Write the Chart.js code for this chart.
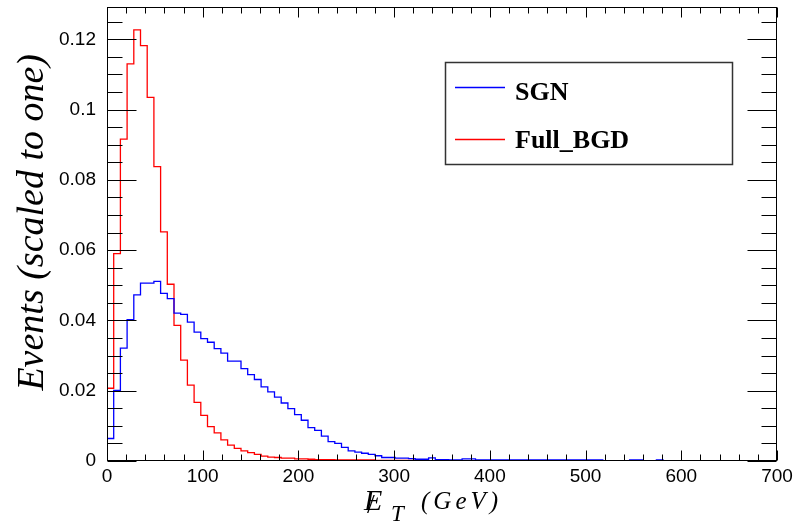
<!DOCTYPE html>
<html>
<head>
<meta charset="utf-8">
<script src="https://cdn.jsdelivr.net/npm/chart.js@4.4.1/dist/chart.umd.min.js"></script>
<style>
  html, body { margin: 0; padding: 0; background: #fff; }
  canvas { display: block; }
</style>
</head>
<body>
<canvas id="chartMet" width="802" height="528"></canvas>
<script>
"use strict";

// 100 bins of 7 GeV, 0 - 700 GeV
var binEdges = [
  0, 7, 14, 21, 28, 35, 42, 49, 56, 63, 70, 77, 84, 91, 98,
  105, 112, 119, 126, 133, 140, 147, 154, 161, 168, 175, 182, 189, 196,
  203, 210, 217, 224, 231, 238, 245, 252, 259, 266, 273, 280, 287, 294,
  301, 308, 315, 322, 329, 336, 343, 350, 357, 364, 371, 378, 385, 392,
  399, 406, 413, 420, 427, 434, 441, 448, 455, 462, 469, 476, 483, 490,
  497, 504, 511, 518, 525, 532, 539, 546, 553, 560, 567, 574, 581, 588,
  595, 602, 609, 616, 623, 630, 637, 644, 651, 658, 665, 672, 679, 686,
  693, 700
];

// SGN (blue), scaled to one
var sgnVals = [
  0.0064, 0.0201, 0.0321, 0.0402, 0.0473, 0.0506, 0.0506, 0.0511, 0.0477, 0.0462,
  0.0421, 0.0417, 0.0395, 0.0367, 0.0348, 0.0338, 0.0320, 0.0307, 0.0284, 0.0284,
  0.0263, 0.0246, 0.0232, 0.0211, 0.0197, 0.0182, 0.0165, 0.0149, 0.0132, 0.0116,
  0.0095, 0.0087, 0.0071, 0.0055, 0.0050, 0.0039, 0.0029, 0.0025, 0.0022, 0.0019,
  0.0015, 0.0010, 0.0010, 0.0008, 0.0008, 0.0007, 0.0005, 0.0005, 0.0009, 0.0004,
  0.0004, 0.0003, 0.0003, 0.0006, 0.0006, 0.0003, 0.0003, 0.0003, 0.0003, 0.0003,
  0.0003, 0.0003, 0.0003, 0.0003, 0.0003, 0.0003, 0.0003, 0.0003, 0.0003, 0.0003,
  0.0003, 0.0003, 0.0003, 0.0003, 0, 0, 0, 0, 0.0003, 0.0003,
  0, 0, 0.0003, 0, 0, 0, 0, 0, 0, 0,
  0, 0, 0, 0, 0, 0, 0, 0, 0, 0
];

// Full_BGD (red), scaled to one
var bgdVals = [
  0.0207, 0.0590, 0.0916, 0.1130, 0.1227, 0.1182, 0.1035, 0.0838, 0.0652, 0.0503,
  0.0386, 0.0287, 0.0216, 0.0167, 0.0130, 0.0098, 0.0080, 0.0060, 0.0045, 0.0036,
  0.0029, 0.0024, 0.0019, 0.0014, 0.0011, 0.0010, 0.0008, 0.0008, 0.0006, 0.0006,
  0.0005, 0.0004, 0.0004, 0.0004, 0.0003, 0.0003, 0.0003, 0.0003, 0.0003, 0.0003,
  0.0002, 0.0002, 0.0002, 0.0002, 0.0002, 0.0002, 0, 0, 0, 0,
  0, 0, 0, 0, 0, 0, 0, 0, 0, 0,
  0, 0, 0, 0, 0, 0, 0, 0, 0, 0,
  0, 0, 0, 0, 0, 0, 0, 0, 0, 0,
  0, 0, 0, 0, 0, 0, 0, 0, 0, 0,
  0, 0, 0, 0, 0, 0, 0, 0, 0, 0
];

var seriesNames  = ['SGN', 'Full_BGD'];
var seriesColors = ['#0000ff', '#ff0000'];
var xTickValues  = [0, 100, 200, 300, 400, 500, 600, 700];
var xTickLabels  = ['0', '100', '200', '300', '400', '500', '600', '700'];
var yTickValues  = [0, 0.02, 0.04, 0.06, 0.08, 0.1, 0.12];
var yTickLabels  = ['0', '0.02', '0.04', '0.06', '0.08', '0.1', '0.12'];
var xMinorStep   = 20;
var yMinorStep   = 0.005;

// histogram -> step points (left edge of each bin, plus closing right edge)
function toSteps(vals) {
  var pts = vals.map(function (v, i) { return { x: binEdges[i], y: v }; });
  pts.push({ x: binEdges[vals.length], y: vals[vals.length - 1] });
  return pts;
}

// ROOT-like frame: box, inner ticks on all four sides, axis titles, legend
var rootFrame = {
  id: 'rootFrame',
  afterDatasetsDraw: function (chart) {
    var ctx = chart.ctx, a = chart.chartArea;
    var xs = chart.scales.x, ys = chart.scales.y;
    var L = Math.round(a.left) + 0.5, R = Math.round(a.right) - 0.5;
    var T = Math.round(a.top) + 0.5, B = Math.round(a.bottom) - 0.5;

    ctx.save();
    ctx.strokeStyle = '#000';
    ctx.lineWidth = 1;
    ctx.strokeRect(L, T, R - L, B - T);

    ctx.beginPath();
    var v, px, len;
    for (v = xs.min; v <= xs.max + 1e-9; v += xMinorStep) {
      px = Math.round(xs.getPixelForValue(v)) + 0.5;
      len = (v % 100 === 0) ? 10 : 6;
      ctx.moveTo(px, B); ctx.lineTo(px, B - len);
      ctx.moveTo(px, T); ctx.lineTo(px, T + len);
    }
    for (var k = 0; k * yMinorStep <= ys.max + 1e-9; k++) {
      v = k * yMinorStep;
      px = Math.round(ys.getPixelForValue(v)) + 0.5;
      len = (k % 4 === 0) ? 29 : 15;
      ctx.moveTo(L, px); ctx.lineTo(L + len, px);
      ctx.moveTo(R, px); ctx.lineTo(R - len, px);
    }
    ctx.stroke();

    // legend
    ctx.fillStyle = '#fff';
    ctx.fillRect(445, 62, 287, 102);
    ctx.strokeStyle = '#333';
    ctx.lineWidth = 1.5;
    ctx.strokeRect(445.5, 62.5, 287, 102);
    var rows = [87.5, 139.5], bases = [100, 148];
    ctx.font = 'bold 26px "Liberation Serif"';
    chart.data.datasets.forEach(function (ds, i) {
      ctx.strokeStyle = seriesColors[i];
      ctx.lineWidth = 1.4;
      ctx.beginPath();
      ctx.moveTo(455, rows[i]); ctx.lineTo(505, rows[i]);
      ctx.stroke();
      ctx.fillStyle = '#000';
      ctx.fillText(ds.label, 515, bases[i]);
    });

    // y title
    ctx.fillStyle = '#000';
    ctx.save();
    ctx.translate(43, 54);
    ctx.rotate(-Math.PI / 2);
    ctx.textAlign = 'right';
    ctx.font = 'italic 38px "Liberation Serif"';
    ctx.fillText('Events (scaled to one)', 0, 0);
    ctx.restore();

    // x title: missing E_T (GeV)
    ctx.font = 'italic 30px "Liberation Serif"';
    ctx.fillText('E', 364, 510);
    ctx.font = '28px "Liberation Serif"';
    ctx.fillText('/', 367, 513);
    ctx.font = 'italic 23px "Liberation Serif"';
    ctx.fillText('T', 391, 521);
    ctx.font = 'italic 25px "Liberation Serif"';
    ctx.letterSpacing = '4px';
    ctx.fillText('(GeV)', 421, 509);
    ctx.restore();
  }
};

new Chart(document.getElementById('chartMet'), {
  type: 'line',
  data: {
    datasets: [{
      label: seriesNames[0],
      data: toSteps(sgnVals),
      borderColor: seriesColors[0],
      borderWidth: 1.3,
      stepped: 'before',
      pointRadius: 0,
      fill: false
    }, {
      label: seriesNames[1],
      data: toSteps(bgdVals),
      borderColor: seriesColors[1],
      borderWidth: 1.3,
      stepped: 'before',
      pointRadius: 0,
      fill: false
    }]
  },
  options: {
    responsive: false,
    animation: false,
    layout: { padding: { left: 0, right: 25, top: 7, bottom: 0 } },
    plugins: {
      legend: { display: false },
      tooltip: { enabled: false }
    },
    scales: {
      x: {
        type: 'linear',
        min: 0,
        max: 700,
        grid: { display: false, drawTicks: false },
        border: { display: false },
        afterBuildTicks: function (s) { s.ticks = xTickValues.map(function (v) { return { value: v }; }); },
        afterFit: function (s) { s.height = 67; s.paddingLeft = 0; s.paddingRight = 0; },
        ticks: {
          padding: 4,
          maxRotation: 0,
          color: '#000',
          font: { family: '"Liberation Sans"', size: 19 },
          callback: function (v) { return xTickLabels[xTickValues.indexOf(v)]; }
        }
      },
      y: {
        type: 'linear',
        min: 0,
        max: 0.1292,
        grid: { display: false, drawTicks: false },
        border: { display: false },
        afterBuildTicks: function (s) { s.ticks = yTickValues.map(function (v) { return { value: v }; }); },
        afterFit: function (s) { s.width = 107; s.paddingTop = 0; s.paddingBottom = 0; },
        ticks: {
          padding: 11,
          color: '#000',
          font: { family: '"Liberation Sans"', size: 19 },
          callback: function (v) { return yTickLabels[yTickValues.indexOf(v)]; }
        }
      }
    }
  },
  plugins: [rootFrame]
});
</script>
</body>
</html>
